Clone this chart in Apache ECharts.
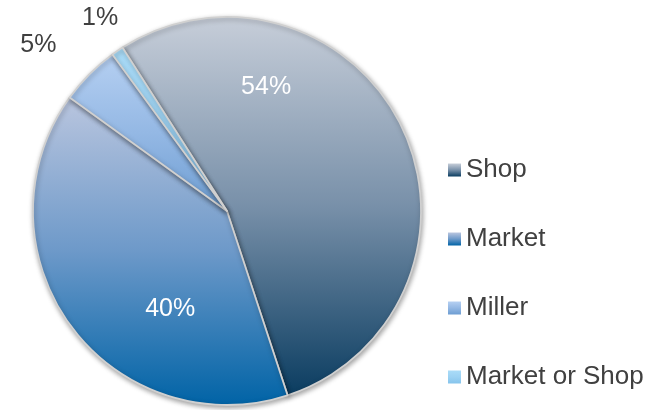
<!DOCTYPE html>
<html>
<head>
<meta charset="utf-8">
<script src="https://cdn.jsdelivr.net/npm/echarts@6/dist/echarts.min.js"></script>
<style>
  html, body { margin: 0; padding: 0; background: #ffffff; }
  #chart { width: 666px; height: 410px; }
</style>
</head>
<body>
<div id="chart"></div>
<script>
// Where the purchases were made (share of respondents, %)
const categories = ['Shop', 'Market', 'Miller', 'Market or Shop'];
const shares = [54, 40, 5, 1];

// Vertical gradient per slice: [top colour, middle colour, bottom colour]
const sliceGradients = [
  ['#c7ced9', '#7890a9', '#0a3c60'],
  ['#bac6df', '#6d99c9', '#0063a6'],
  ['#b6d0f2', '#94b8e4', '#6d9dd2'],
  ['#aadcf8', '#9cd2f3', '#86c4ec']
];

// Label anchors in polar form around the pie centre: [degrees clockwise from 12 o'clock, radius px]
const labelAnchors = [[17.5, 130], [210.2, 113], [311.3, 251], [326.7, 231]];
const labelColors = ['#ffffff', '#ffffff', '#404040', '#404040'];

const pieCenter = [227, 211];
const pieRadius = 194;
const FONT = '"Liberation Sans", Arial, sans-serif';

function gradient(stops) {
  return new echarts.graphic.LinearGradient(0, 0, 0, 1, [
    { offset: 0, color: stops[0] },
    { offset: 0.5, color: stops[1] },
    { offset: 1, color: stops[2] }
  ]);
}

const chart = echarts.init(document.getElementById('chart'), null, { renderer: 'canvas' });

chart.setOption({
  animation: false,
  backgroundColor: '#ffffff',
  legend: {
    orient: 'vertical',
    left: 448,
    top: 157,
    padding: 0,
    itemWidth: 13,
    itemHeight: 13,
    itemGap: 43,
    icon: 'rect',
    data: categories,
    itemStyle: {
      borderWidth: 0,
      shadowBlur: 0,
      shadowOffsetX: 0,
      shadowOffsetY: 0
    },
    textStyle: {
      fontFamily: FONT,
      fontSize: 26,
      lineHeight: 26,
      color: '#404040'
    }
  },
  series: [{
    type: 'pie',
    center: pieCenter,
    radius: pieRadius,
    startAngle: 122.6,
    clockwise: true,
    avoidLabelOverlap: false,
    itemStyle: {
      borderColor: '#d0d0d0',
      borderWidth: 1.8,
      shadowBlur: 5,
      shadowOffsetX: 1,
      shadowOffsetY: 2,
      shadowColor: 'rgba(0,0,0,0.35)'
    },
    label: {
      show: true,
      position: 'inside',
      fontFamily: FONT,
      fontSize: 25,
      formatter: p => Math.round(p.percent) + '%'
    },
    labelLine: { show: false },
    labelLayout: function (params) {
      const a = labelAnchors[params.dataIndex];
      const rad = a[0] * Math.PI / 180;
      return {
        x: pieCenter[0] + a[1] * Math.sin(rad),
        y: pieCenter[1] - a[1] * Math.cos(rad),
        align: 'center',
        verticalAlign: 'middle'
      };
    },
    emphasis: { disabled: true },
    data: categories.map((name, i) => ({
      name: name,
      value: shares[i],
      itemStyle: { color: gradient(sliceGradients[i]) },
      label: { color: labelColors[i] }
    }))
  }]
});
</script>
</body>
</html>
